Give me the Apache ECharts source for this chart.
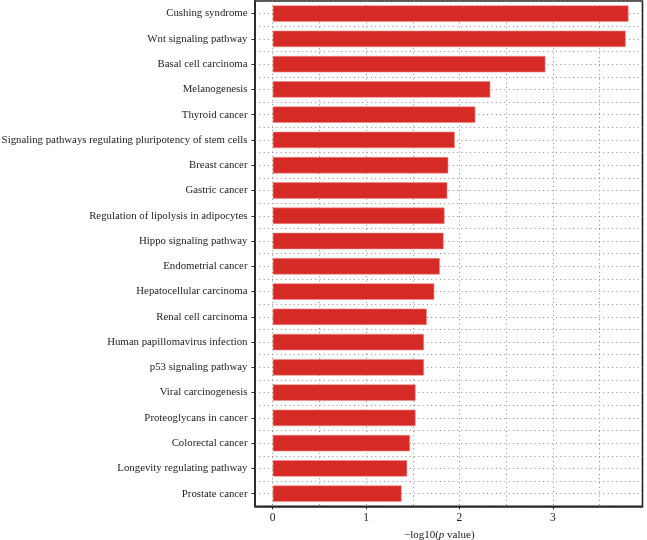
<!DOCTYPE html>
<html>
<head>
<meta charset="utf-8">
<script src="https://cdn.jsdelivr.net/npm/echarts@6/dist/echarts.min.js"></script>
<style>html,body{margin:0;padding:0;background:#fff;}#c{width:647px;height:540px;}</style>
</head>
<body>
<div id="c"></div>
<script>
const categories = [
  "Cushing syndrome",
  "Wnt signaling pathway",
  "Basal cell carcinoma",
  "Melanogenesis",
  "Thyroid cancer",
  "Signaling pathways regulating pluripotency of stem cells",
  "Breast cancer",
  "Gastric cancer",
  "Regulation of lipolysis in adipocytes",
  "Hippo signaling pathway",
  "Endometrial cancer",
  "Hepatocellular carcinoma",
  "Renal cell carcinoma",
  "Human papillomavirus infection",
  "p53 signaling pathway",
  "Viral carcinogenesis",
  "Proteoglycans in cancer",
  "Colorectal cancer",
  "Longevity regulating pathway",
  "Prostate cancer"
];
const values = [3.81, 3.78, 2.92, 2.33, 2.17, 1.95, 1.88, 1.87, 1.84, 1.83,
                1.79, 1.73, 1.65, 1.62, 1.62, 1.53, 1.53, 1.47, 1.44, 1.38];
const xTicks = [0, 1, 2, 3];
const xGridValues = [0, 0.5, 1, 1.5, 2, 2.5, 3, 3.5];
const xMin = -0.19, xMax = 3.96;

const fontFam = '"Liberation Serif", "DejaVu Serif", serif';
const gridLine = { show: true, lineStyle: { color: '#8a8a8a', width: 1, type: [1, 3.3] } };

const chart = echarts.init(document.getElementById('c'), null, { renderer: 'canvas' });
chart.setOption({
  animation: false,
  backgroundColor: '#fff',
  grid: { left: 255, right: 4.5, top: 1, bottom: 33.7, containLabel: false, outerBoundsMode: 'none',
    show: true, borderColor: '#222', borderWidth: 1.6, backgroundColor: 'transparent' },
  xAxis: [
    {
      type: 'value', min: xMin, max: xMax,
      axisLine: { show: true, onZero: false, lineStyle: { color: '#222', width: 1.6 } },
      axisTick: { show: true, length: 3, customValues: xTicks, lineStyle: { color: '#222' } },
      axisLabel: { customValues: xTicks, margin: 6, color: '#222', fontFamily: fontFam, fontSize: 11.5 },
      splitLine: { show: false },
      name: '\u2212log10({i|p} value)',
      nameLocation: 'middle', nameGap: 22,
      nameTextStyle: { color: '#222', fontFamily: fontFam, fontSize: 11, padding: [0, 19, 0, 0],
        rich: { i: { fontStyle: 'italic', fontFamily: fontFam, fontSize: 11, color: '#222' } } }
    },
    {
      type: 'value', min: xMin, max: xMax, position: 'bottom',
      axisLine: { show: false }, axisTick: { show: false, customValues: xGridValues },
      axisLabel: { show: false },
      splitLine: gridLine
    }
  ],
  yAxis: [
    {
      type: 'category', data: categories, inverse: true,
      axisLine: { show: true, onZero: false, lineStyle: { color: '#222', width: 1.6 } },
      axisTick: { show: true, length: 3.5, alignWithLabel: true, lineStyle: { color: '#222' } },
      axisLabel: { margin: 7.5, color: '#222', fontFamily: fontFam, fontSize: 10.8, interval: 0 },
      splitLine: gridLine
    },
    {
      type: 'value', min: -0.5, max: categories.length - 0.5, inverse: true, position: 'left',
      axisLine: { show: false }, axisTick: { show: false, customValues: categories.map((c, i) => i) },
      axisLabel: { show: false },
      splitLine: gridLine
    }
  ],
  series: [{
    type: 'bar', xAxisIndex: 0, yAxisIndex: 0,
    data: values, barWidth: '65%',
    itemStyle: { color: '#D62A26', borderColor: '#EE8F8C', borderWidth: 0.6 }
  }]
});
</script>
</body>
</html>
